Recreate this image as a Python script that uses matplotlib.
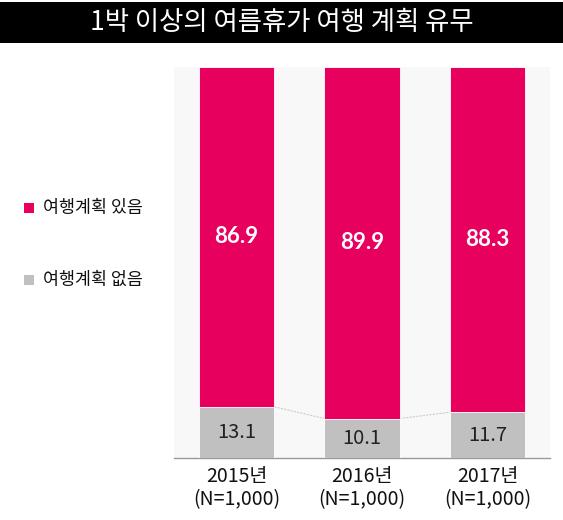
import matplotlib.pyplot as plt
from matplotlib.patches import Rectangle

years = ['2015년\n(N=1,000)', '2016년\n(N=1,000)', '2017년\n(N=1,000)']
plan_yes = [86.9, 89.9, 88.3]
plan_no = [13.1, 10.1, 11.7]
legend_labels = ['여행계획 있음', '여행계획 없음']
title = '1박 이상의 여름휴가 여행 계획 유무'

PINK = '#e8005f'
GRAY = '#c0c0c0'
KR = ['Noto Sans CJK KR', 'DejaVu Sans']

plt.rcParams['font.family'] = KR

fig = plt.figure(figsize=(5.63, 5.2), dpi=100)
W, H = 563, 520

# title bar
fig.patches.append(Rectangle((0, 1 - 43 / H), 1, 41 / H, transform=fig.transFigure,
                             facecolor='black', edgecolor='none'))
fig.text(0.5, 1 - 23 / H, title, color='white', fontsize=19, ha='center', va='center')

ax = fig.add_axes([174 / W, 1 - 458 / H, (550 - 174) / W, (458 - 67) / H])
ax.set_facecolor('#f8f8f8')
x = range(len(years))
ax.bar(x, plan_no, width=0.6, color=GRAY, edgecolor='white', linewidth=0.6, zorder=3)
ax.bar(x, plan_yes, width=0.6, bottom=plan_no, color=PINK, edgecolor='white', linewidth=0.6, zorder=3)

for i in range(len(years) - 1):
    ax.plot([i + 0.3, i + 0.7], [plan_no[i], plan_no[i + 1]], color='#cccccc', lw=0.8,
            ls=(0, (2, 1)), zorder=2)

for i in x:
    ax.text(i, plan_no[i] + plan_yes[i] / 2, f'{plan_yes[i]:.1f}', color='white',
            fontsize=16, ha='center', va='center', family='Lato', fontweight='bold', zorder=4)
    ax.text(i, plan_no[i] / 2, f'{plan_no[i]:.1f}', color='#222222',
            fontsize=14.5, ha='center', va='center', fontweight='medium', zorder=4)

ax.set_xlim(-0.5, 2.5)
ax.set_ylim(0, 100)
for s in ['top', 'left', 'right']:
    ax.spines[s].set_visible(False)
ax.spines['bottom'].set_color('#999999')
ax.spines['bottom'].set_linewidth(1)
ax.set_yticks([])
ax.set_xticks(list(x))
ax.set_xticklabels(years, fontsize=14, linespacing=1.1, color='#111111')
ax.tick_params(axis='x', length=0, pad=6)

# legend
for lab, col, yy in zip(legend_labels, [PINK, GRAY], [208, 280]):
    fig.patches.append(Rectangle((24 / W, 1 - (yy + 5) / H), 10 / W, 10 / H,
                                 transform=fig.transFigure, facecolor=col, edgecolor='none'))
    fig.text(43 / W, 1 - yy / H, lab, fontsize=12.5, ha='left', va='center', color='#111111',
             fontweight='medium')

fig.savefig('out.png', dpi=100, facecolor='white')
